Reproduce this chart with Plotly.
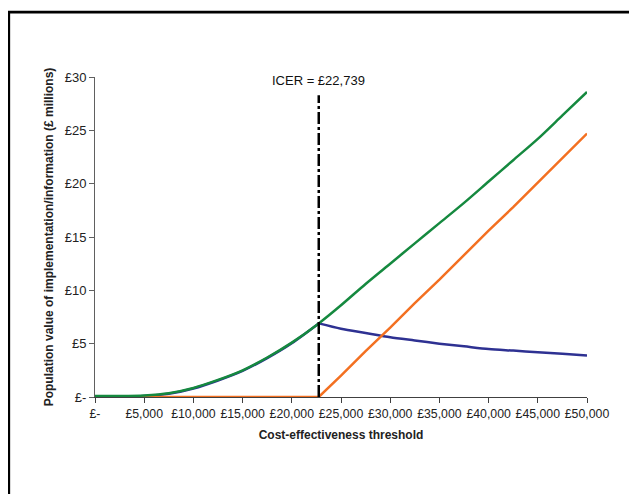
import plotly.graph_objects as go

# Data
thresholds = [0, 2500, 5000, 7500, 10000, 12500, 15000, 17500, 20000, 22739,
              25000, 27500, 30000, 32500, 35000, 37500, 40000, 42500, 45000, 47500, 50000]
evp = [0.1, 0.1, 0.15, 0.35, 0.85, 1.6, 2.5, 3.7, 5.1, 6.9,
       8.6, 10.6, 12.5, 14.4, 16.3, 18.2, 20.2, 22.2, 24.2, 26.4, 28.6]
evpim = [0, 0, 0, 0, 0, 0, 0, 0, 0, 0,
         2.0, 4.3, 6.5, 8.8, 11.0, 13.3, 15.6, 17.8, 20.1, 22.4, 24.7]
evpi = [0.05, 0.05, 0.1, 0.3, 0.8, 1.55, 2.45, 3.65, 5.05, 6.9,
        6.4, 6.0, 5.6, 5.3, 5.0, 4.75, 4.5, 4.35, 4.2, 4.05, 3.9]
icer = 22739

x_ticks = [0, 5000, 10000, 15000, 20000, 25000, 30000, 35000, 40000, 45000, 50000]
x_ticktext = ["£-", "£5,000", "£10,000", "£15,000", "£20,000", "£25,000",
              "£30,000", "£35,000", "£40,000", "£45,000", "£50,000"]
y_ticks = [0, 5, 10, 15, 20, 25, 30]
y_ticktext = ["£-", "£5", "£10", "£15", "£20", "£25", "£30"]

GREEN = "#15893f"
ORANGE = "#f37021"
NAVY = "#2e3192"
FONT = "Liberation Sans, Arial, sans-serif"

icer_idx = thresholds.index(icer)

fig = go.Figure()
# EVPI: before ICER it coincides with EVP (hidden); after ICER it declines
fig.add_trace(go.Scatter(x=thresholds[:icer_idx + 1], y=evpi[:icer_idx + 1], mode="lines",
                         name="EVPI", line=dict(color=NAVY, width=2.5, shape="spline", smoothing=0.8),
                         cliponaxis=False))
fig.add_trace(go.Scatter(x=thresholds[icer_idx:], y=evpi[icer_idx:], mode="lines",
                         name="EVPI", line=dict(color=NAVY, width=2.5, shape="spline", smoothing=0.8),
                         cliponaxis=False))
fig.add_trace(go.Scatter(x=thresholds, y=evpim, mode="lines", name="EVPIM",
                         line=dict(color=ORANGE, width=2.5), cliponaxis=False))
fig.add_trace(go.Scatter(x=thresholds, y=evp, mode="lines", name="EVP",
                         line=dict(color=GREEN, width=2.5, shape="spline", smoothing=0.8),
                         cliponaxis=False))
fig.add_trace(go.Scatter(x=[icer, icer], y=[0, 28.3], mode="lines", name="ICER",
                         line=dict(color="black", width=2.5, dash="12px,3px,3px,3px"),
                         cliponaxis=False))

annotations = [
    dict(x=icer, y=29.7, text="ICER = £22,739", showarrow=False,
         font=dict(size=13, color="#111111", family=FONT)),
    dict(x=50900, y=29.4, text="EVP", showarrow=False,
         font=dict(size=10, color="#111111", family=FONT)),
    dict(x=52440, y=25.0, text="EVPIM", showarrow=False,
         font=dict(size=10, color="#111111", family=FONT)),
    dict(x=50100, y=5.0, text="EVPI", showarrow=False,
         font=dict(size=10, color="#111111", family=FONT)),
]

fig.update_layout(
    width=637, height=494,
    margin=dict(l=87, r=58, t=69, b=105),
    paper_bgcolor="white", plot_bgcolor="white",
    showlegend=False,
    font=dict(family=FONT, size=13, color="#222222"),
    annotations=annotations,
    shapes=[dict(type="rect", xref="paper", yref="paper",
                 x0=-0.1752, x1=1.2, y0=-0.4, y1=1.203,
                 line=dict(color="black", width=2.7), fillcolor="rgba(0,0,0,0)",
                 layer="below")],
)
fig.update_xaxes(range=[0, 50000], tickvals=x_ticks, ticktext=x_ticktext,
                 showgrid=False, zeroline=False, showline=True, linecolor="#404040",
                 linewidth=1, ticks="outside", ticklen=5, tickcolor="#404040",
                 tickfont=dict(size=12.3, family=FONT, color="#222222"),
                 title=dict(text="<b>Cost-effectiveness threshold</b>", standoff=10,
                            font=dict(size=12, family=FONT, color="#222222")))
fig.update_yaxes(range=[0, 30], tickvals=y_ticks, ticktext=y_ticktext,
                 showgrid=False, zeroline=False, showline=True, linecolor="#606060",
                 linewidth=1, ticks="outside", ticklen=5, tickcolor="#606060",
                 tickfont=dict(size=13, family=FONT, color="#222222"),
                 title=dict(text="<b>Population value of implementation/information (£ millions)</b>",
                            standoff=8, font=dict(size=12, family=FONT, color="#222222")))

fig.write_html("out.html")
